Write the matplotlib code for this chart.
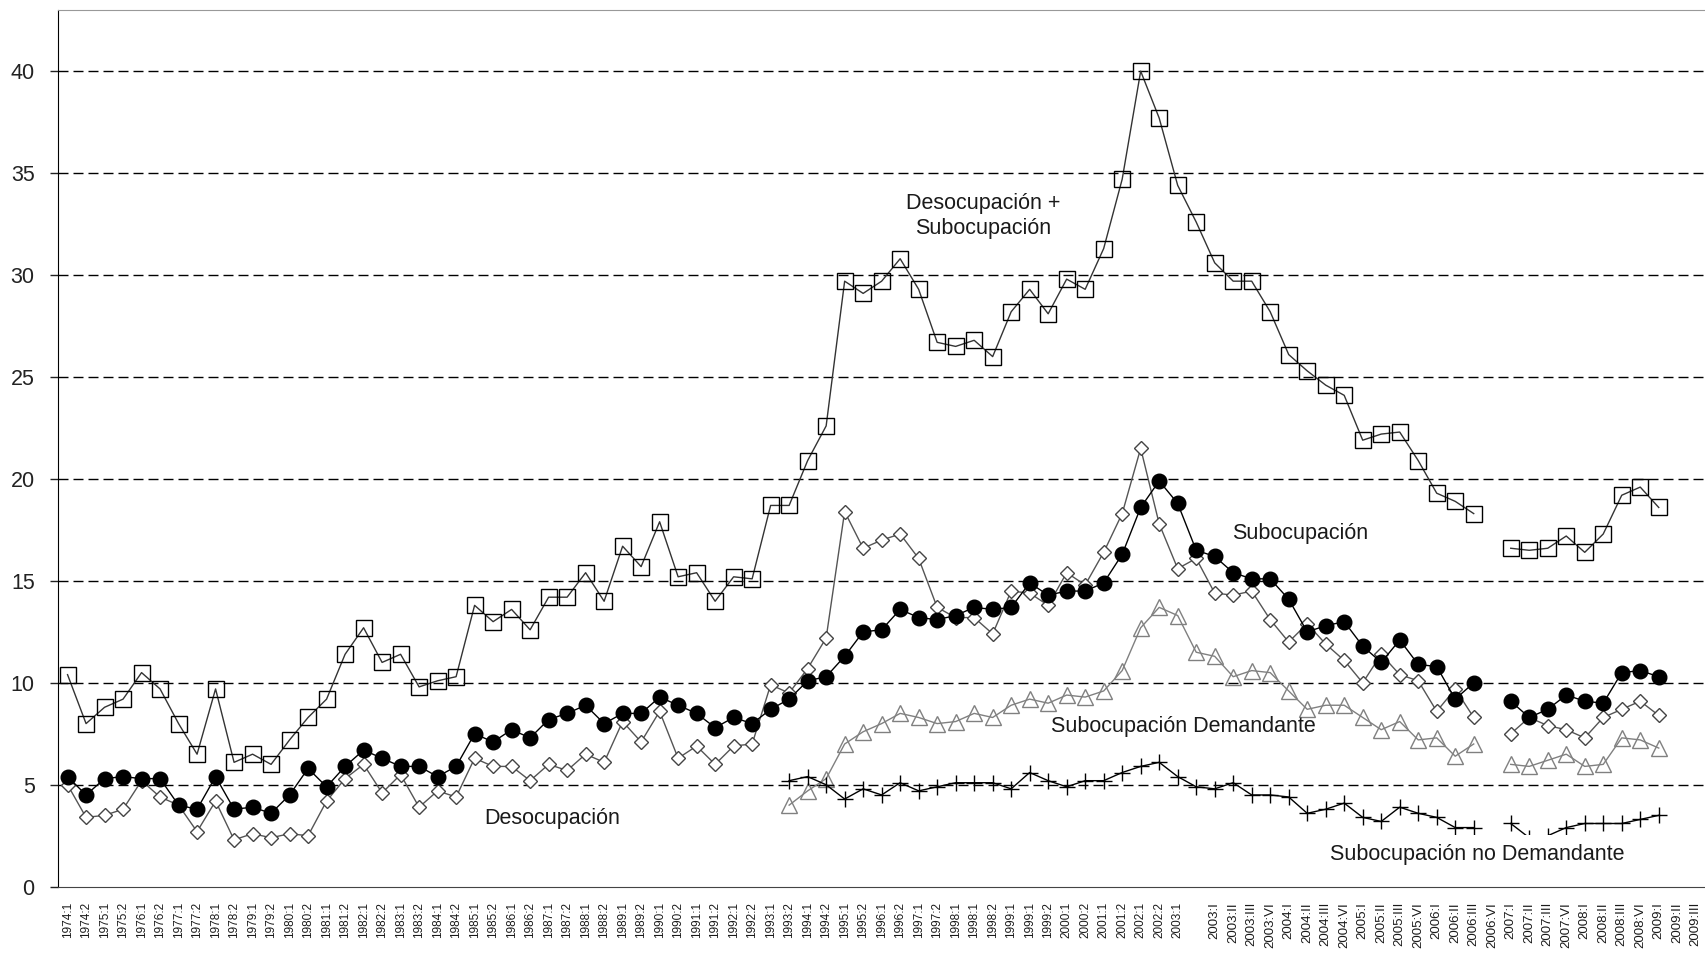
import numpy as np
import matplotlib.pyplot as plt

plt.rcParams['font.family'] = ['Liberation Sans', 'DejaVu Sans']

# etiquetas del eje x: ondas semestrales, un hueco y luego trimestres
sem_labels = [f"{y}:{s}" for y in range(1974, 1998) for s in (1, 2)]
sem_labels += ["1998:1", "1998:1", "1998:2", "1999:1", "1999:1", "1999:2",
               "2000:1", "2000:2", "2001:1", "2001:2", "2002:1", "2002:2", "2003:1"]
quarters = ["I", "II", "III", "VI"]
trim_labels = [f"{y}:{q}" for y in range(2003, 2009) for q in quarters]
trim_labels += ["2009:I", "2009:II", "2009:III"]
labels = sem_labels + [""] + trim_labels

nan = np.nan

# Desocupación + Subocupación
total_sem = [10.4, 8.0, 8.8, 9.2, 10.5, 9.7, 8.0, 6.5, 9.7, 6.1,
             6.5, 6.0, 7.2, 8.3, 9.2, 11.4, 12.7, 11.0, 11.4, 9.8,
             10.1, 10.3, 13.8, 13.0, 13.6, 12.6, 14.2, 14.2, 15.4, 14.0,
             16.7, 15.7, 17.9, 15.2, 15.4, 14.0, 15.2, 15.1, 18.7, 18.7,
             20.9, 22.6, 29.7, 29.1, 29.7, 30.8, 29.3, 26.7, 26.5, 26.8,
             26.0, 28.2, 29.3, 28.1, 29.8, 29.3, 31.3, 34.7, 40.0, 37.7,
             34.4]
total_trim = [32.6, 30.6, 29.7, 29.7, 28.2, 26.1, 25.3, 24.6, 24.1, 21.9,
              22.2, 22.3, 20.9, 19.3, 18.9, 18.3, nan, 16.6, 16.5, 16.6,
              17.2, 16.4, 17.3, 19.2, 19.6, 18.6]

# Subocupación
subo_sem = [5.4, 4.5, 5.3, 5.4, 5.3, 5.3, 4.0, 3.8, 5.4, 3.8,
            3.9, 3.6, 4.5, 5.8, 4.9, 5.9, 6.7, 6.3, 5.9, 5.9,
            5.4, 5.9, 7.5, 7.1, 7.7, 7.3, 8.2, 8.5, 8.9, 8.0,
            8.5, 8.5, 9.3, 8.9, 8.5, 7.8, 8.3, 8.0, 8.7, 9.2,
            10.1, 10.3, 11.3, 12.5, 12.6, 13.6, 13.2, 13.1, 13.3, 13.7,
            13.6, 13.7, 14.9, 14.3, 14.5, 14.5, 14.9, 16.3, 18.6, 19.9,
            18.8]
subo_trim = [16.5, 16.2, 15.4, 15.1, 15.1, 14.1, 12.5, 12.8, 13.0, 11.8,
             11.0, 12.1, 10.9, 10.8, 9.2, 10.0, nan, 9.1, 8.3, 8.7,
             9.4, 9.1, 9.0, 10.5, 10.6, 10.3]

# Desocupación
deso_sem = [5.0, 3.4, 3.5, 3.8, 5.2, 4.4, 4.0, 2.7, 4.2, 2.3,
            2.6, 2.4, 2.6, 2.5, 4.2, 5.3, 6.0, 4.6, 5.5, 3.9,
            4.7, 4.4, 6.3, 5.9, 5.9, 5.2, 6.0, 5.7, 6.5, 6.1,
            8.1, 7.1, 8.6, 6.3, 6.9, 6.0, 6.9, 7.0, 9.9, 9.5,
            10.7, 12.2, 18.4, 16.6, 17.0, 17.3, 16.1, 13.7, 13.2, 13.2,
            12.4, 14.5, 14.4, 13.8, 15.4, 14.8, 16.4, 18.3, 21.5, 17.8,
            15.6]
deso_trim = [16.1, 14.4, 14.3, 14.5, 13.1, 12.0, 12.9, 11.9, 11.1, 10.0,
             11.4, 10.4, 10.1, 8.6, 9.7, 8.3, nan, 7.5, 8.3, 7.9,
             7.7, 7.3, 8.3, 8.7, 9.1, 8.4]

# Subocupación demandante / no demandante (desde 1993:2)
start_sub = 39
dem_sem = [4.0, 4.7, 5.3, 7.0, 7.6, 8.0, 8.5, 8.3, 8.0, 8.1, 8.5,
           8.3, 8.9, 9.2, 9.0, 9.4, 9.3, 9.6, 10.6, 12.7, 13.7, 13.3]
dem_trim = [11.5, 11.3, 10.3, 10.6, 10.5, 9.6, 8.7, 8.9, 8.9, 8.3,
            7.7, 8.1, 7.2, 7.3, 6.4, 7.0, nan, 6.0, 5.9, 6.2,
            6.5, 5.9, 6.0, 7.3, 7.2, 6.8]
nodem_sem = [5.2, 5.4, 5.0, 4.3, 4.8, 4.5, 5.1, 4.7, 4.9, 5.1, 5.1,
             5.1, 4.8, 5.6, 5.2, 4.9, 5.2, 5.2, 5.6, 5.9, 6.1, 5.4]
nodem_trim = [4.9, 4.8, 5.1, 4.5, 4.5, 4.4, 3.6, 3.8, 4.1, 3.4,
              3.2, 3.9, 3.6, 3.4, 2.9, 2.9, nan, 3.1, 2.4, 2.5,
              2.9, 3.1, 3.1, 3.1, 3.3, 3.5]


def serie(sem, trim, start=0):
    vals = [nan] * start + list(sem) + list(trim)
    return np.array(vals, dtype=float)


total = serie(total_sem, total_trim)
subo = serie(subo_sem, subo_trim)
deso = serie(deso_sem, deso_trim)
dem = serie(dem_sem, dem_trim, start_sub)
nodem = serie(nodem_sem, nodem_trim, start_sub)
x = np.arange(len(total))

W, H = 1705, 969
fig = plt.figure(figsize=(W / 100, H / 100), dpi=100)
ax = fig.add_axes([58.3 / W, (H - 886.7) / H, 1 - 58.3 / W, (886.7 - 10) / H])

for yv in range(5, 45, 5):
    ax.axhline(yv, color='black', lw=1.0, dashes=(7.2, 3.6), zorder=1)

ax.plot(x, total, color='#333333', lw=1.0, marker='s', ms=11.5,
        mfc='none', mec='black', mew=1.0, zorder=3)
ax.plot(x, deso, color='#555555', lw=1.0, marker='D', ms=7.5,
        mfc='white', mec='#444444', mew=1.0, zorder=3)
ax.plot(x, dem, color='#808080', lw=1.0, marker='^', ms=11,
        mfc='none', mec='#808080', mew=1.0, zorder=3)
ax.plot(x, nodem, color='black', lw=1.0, marker='+', ms=11,
        mec='black', mew=1.0, zorder=3)
ax.plot(x, subo, color='black', lw=1.0, marker='o', ms=10.5,
        mfc='black', mec='black', zorder=4)

txt = dict(fontsize=15.5, color='#1a1a1a', ha='center', va='center', zorder=6)
ax.text(49.5, 32.9, "Desocupación +\nSubocupación", linespacing=1.25, **txt)
ax.text(66.6, 17.3, "Subocupación", **txt)
ax.text(60.3, 7.85, "Subocupación Demandante", **txt)
ax.text(26.2, 3.35, "Desocupación", **txt)
ax.text(76.2, 1.6, "Subocupación no Demandante",
        bbox=dict(facecolor='white', edgecolor='none', pad=6), **txt)

ax.set_xlim(-0.5, len(labels) - 0.5)
ax.set_ylim(0, 43)
ax.set_yticks(range(0, 45, 5))
ax.tick_params(axis='y', labelsize=15.5, colors='#222222', length=6, width=1, pad=11)
ax.set_xticks(np.arange(len(labels)))
ax.set_xticklabels(labels, rotation=90, fontsize=8.5, color='#1a1a1a', va='top')
for lab in ax.get_xticklabels()[len(sem_labels):]:
    lab.set_fontsize(9.5)
ax.tick_params(axis='x', length=0, pad=11)

ax.spines['left'].set_color('black')
ax.spines['bottom'].set_color('#444444')
ax.spines['top'].set_color('#999999')
ax.spines['right'].set_visible(False)

fig.savefig('out.png', dpi=100)
